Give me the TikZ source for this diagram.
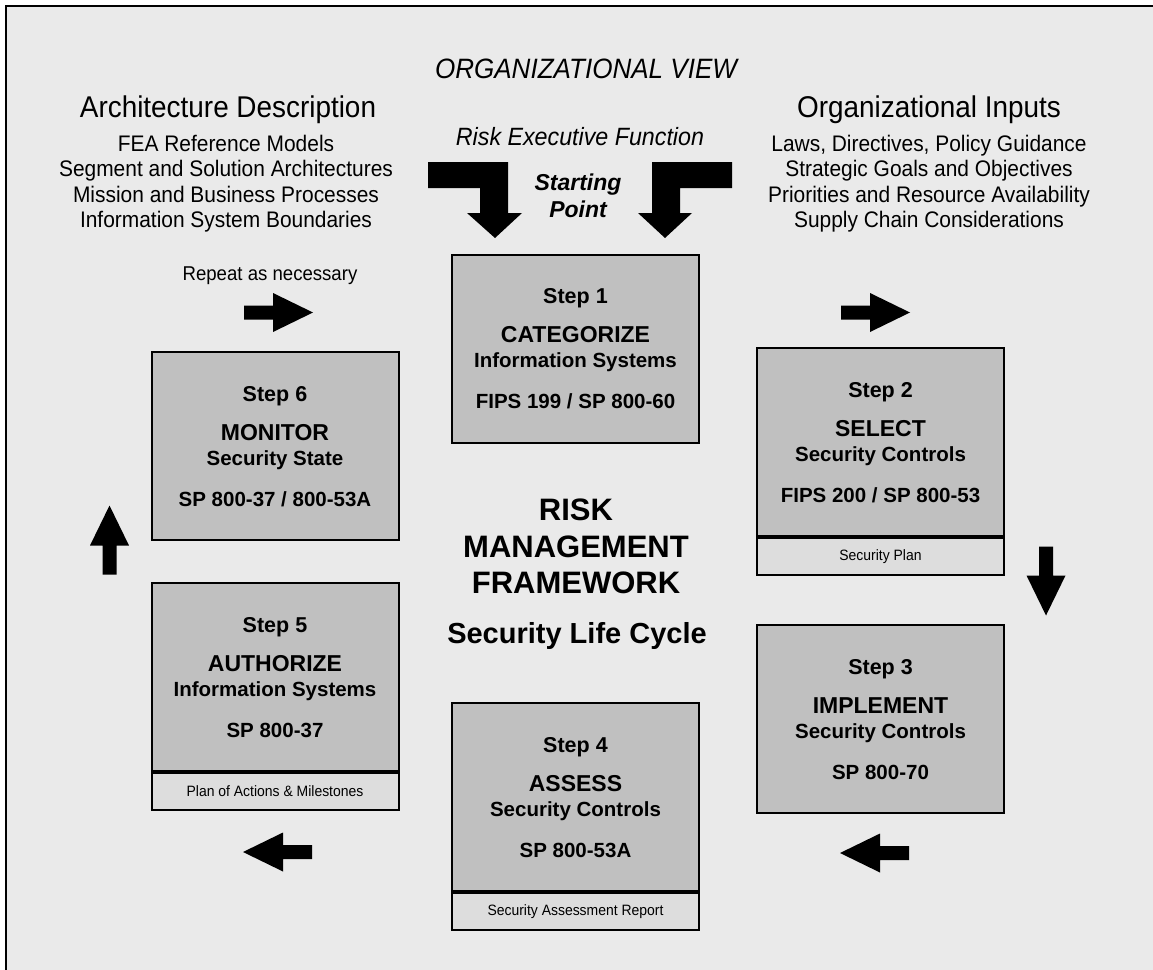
\documentclass[tikz,border=0pt]{standalone}
\usepackage{fontspec}
\setmainfont{Liberation Sans}
\newfontfamily\narrowsf[FakeStretch=0.93]{Liberation Sans}
\usetikzlibrary{positioning}

\definecolor{pagegray}{HTML}{EAEAEA}
\definecolor{boxgray}{HTML}{C0C0C0}
\definecolor{subgray}{HTML}{DDDDDD}

\tikzset{
  stepbox/.style={draw, line width=2pt, fill=boxgray, minimum width=247pt, minimum height=188pt, inner sep=0pt},
  outbox/.style={draw, line width=2pt, fill=subgray, minimum width=247pt, minimum height=37pt, inner sep=0pt, anchor=north, font=\narrowsf\fontsize{15}{18}\selectfont},
  stepno/.style={anchor=base, inner sep=0pt, font=\bfseries\fontsize{21.5}{24}\selectfont},
  steptitle/.style={anchor=base, inner sep=0pt, font=\bfseries\fontsize{23}{26}\selectfont},
  stepsub/.style={anchor=base, inner sep=0pt, font=\bfseries\fontsize{20.5}{24}\selectfont},
  headtxt/.style={anchor=base, inner sep=0pt, font=\narrowsf\fontsize{30}{34}\selectfont},
  listtxt/.style={anchor=base, inner sep=0pt, font=\narrowsf\fontsize{22.5}{26}\selectfont},
  bigtxt/.style={anchor=base, inner sep=0pt, font=\bfseries\fontsize{31}{36}\selectfont},
  flowarrow/.pic={\fill (-34.5,-7) -- (-5.5,-7) -- (-5.5,-19.5) -- (34.5,0) -- (-5.5,19.5) -- (-5.5,7) -- (-34.5,7) -- cycle;}
}

% text lines of one step box
\newcommand{\steptext}[5]{%
  \node[stepno] (#1-no) at ([yshift=-50pt]#1.north) {#2};
  \node[steptitle] (#1-title) at ([yshift=-89pt]#1.north) {#3};
  \node[stepsub] (#1-sub) at ([yshift=-114pt]#1.north) {#4};
  \node[stepsub] (#1-ref) at ([yshift=-155pt]#1.north) {#5};
}

\begin{document}
\begin{tikzpicture}[x=1pt, y=-1pt]
  \useasboundingbox (0,0) rectangle (1153,969);
  \clip (0,0) rectangle (1153,969);

  % Frame
  \fill[white] (0,0) rectangle (1153,969);
  \fill[pagegray] (6,6) rectangle (1170,990);
  \draw[line width=2.5pt] (6,990) -- (6,6) -- (1170,6);

  % Top texts
  \node[anchor=base, inner sep=0pt, font=\narrowsf\itshape\fontsize{28}{32}\selectfont] (view) at (586,78) {ORGANIZATIONAL VIEW};
  \node[headtxt] (arch) at (228,117) {Architecture Description};
  \node[headtxt] (inputs) at (929,117) {Organizational Inputs};
  \node[listtxt] (arch1) at (226,151) {FEA Reference Models};
  \node[listtxt] (arch2) at (226,176.5) {Segment and Solution Architectures};
  \node[listtxt] (arch3) at (226,202) {Mission and Business Processes};
  \node[listtxt] (arch4) at (226,227.5) {Information System Boundaries};
  \node[listtxt] (in1) at (929,151) {Laws, Directives, Policy Guidance};
  \node[listtxt] (in2) at (929,176.5) {Strategic Goals and Objectives};
  \node[listtxt] (in3) at (929,202) {Priorities and Resource Availability};
  \node[listtxt] (in4) at (929,227.5) {Supply Chain Considerations};
  \node[anchor=base, inner sep=0pt, font=\narrowsf\itshape\fontsize{25}{28}\selectfont] (riskexec) at (580,145) {Risk Executive Function};
  \node[anchor=base, inner sep=0pt, font=\bfseries\itshape\fontsize{23}{27}\selectfont] (start1) at (578,190) {Starting};
  \node[anchor=base, inner sep=0pt, font=\bfseries\itshape\fontsize{23}{27}\selectfont] (start2) at (578,217) {Point};

  % Starting arrows
  \fill (428,162) -- (508,162) -- (508,213) -- (522,213) -- (495,238) -- (467,213) -- (480,213) -- (480,188) -- (428,188) -- cycle;
  \fill (732,162) -- (652,162) -- (652,213) -- (638,213) -- (665,238) -- (692,213) -- (680,213) -- (680,188) -- (732,188) -- cycle;

  % Steps
  \node[stepbox] (s1) at (575.5,348.5) {};
  \node[stepbox] (s2) at (880.5,442) {};
  \node[stepbox] (s3) at (880.5,719) {};
  \node[stepbox] (s4) at (575.5,797) {};
  \node[stepbox] (s5) at (275,677) {};
  \node[stepbox] (s6) at (275,446) {};
  \node[outbox] (s2out) at (s2.south) {Security Plan};
  \node[outbox] (s4out) at (s4.south) {Security Assessment Report};
  \node[outbox] (s5out) at (s5.south) {Plan of Actions \& Milestones};

  \steptext{s1}{Step 1}{CATEGORIZE}{Information Systems}{FIPS 199 / SP 800-60}
  \steptext{s2}{Step 2}{SELECT}{Security Controls}{FIPS 200 / SP 800-53}
  \steptext{s3}{Step 3}{IMPLEMENT}{Security Controls}{SP 800-70}
  \steptext{s4}{Step 4}{ASSESS}{Security Controls}{SP 800-53A}
  \steptext{s5}{Step 5}{AUTHORIZE}{Information Systems}{SP 800-37}
  \steptext{s6}{Step 6}{MONITOR}{Security State}{SP 800-37 / 800-53A}

  % Cycle arrows
  \node[anchor=base, inner sep=0pt, font=\narrowsf\fontsize{20}{24}\selectfont] (repeat) at (270,280) {Repeat as necessary};
  \pic at (278.5,312.5) {flowarrow};
  \pic at (875.5,312.5) {flowarrow};
  \pic[rotate=-90] at (1046,581) {flowarrow};
  \pic[rotate=180] at (874.5,853) {flowarrow};
  \pic[rotate=180] at (277.5,852) {flowarrow};
  \pic[rotate=90] at (109.5,540) {flowarrow};

  % Center title
  \node[bigtxt] (rmf1) at (576,520) {RISK};
  \node[bigtxt] (rmf2) at (576,557) {MANAGEMENT};
  \node[bigtxt] (rmf3) at (576,593.5) {FRAMEWORK};
  \node[anchor=base, inner sep=0pt, font=\bfseries\fontsize{29}{34}\selectfont] (cycle) at (577,643) {Security Life Cycle};
\end{tikzpicture}
\end{document}
